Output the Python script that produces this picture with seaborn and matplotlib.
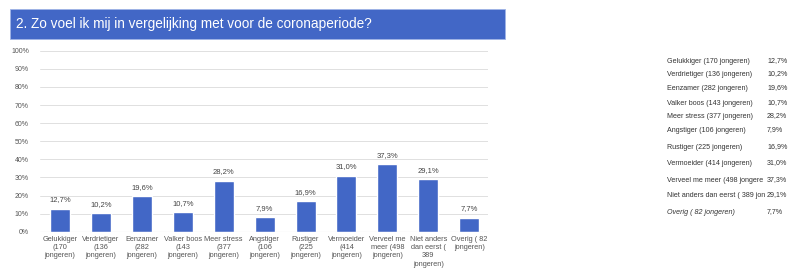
import matplotlib
matplotlib.use("Agg")
import matplotlib.pyplot as plt
from matplotlib.patches import Rectangle
import seaborn as sns
import pandas as pd

categories = [
    "Gelukkiger\n(170\njongeren)",
    "Verdrietiger\n(136\njongeren)",
    "Eenzamer\n(282\njongeren)",
    "Valker boos\n(143\njongeren)",
    "Meer stress\n(377\njongeren)",
    "Angstiger\n(106\njongeren)",
    "Rustiger\n(225\njongeren)",
    "Vermoeider\n(414\njongeren)",
    "Verveel me\nmeer (498\njongeren)",
    "Niet anders\ndan eerst (\n389\njongeren)",
    "Overig ( 82\njongeren)",
]
values = [12.7, 10.2, 19.6, 10.7, 28.2, 7.9, 16.9, 31.0, 37.3, 29.1, 7.7]
table_labels = [
    "Gelukkiger (170 jongeren)",
    "Verdrietiger (136 jongeren)",
    "Eenzamer (282 jongeren)",
    "Valker boos (143 jongeren)",
    "Meer stress (377 jongeren)",
    "Angstiger (106 jongeren)",
    "Rustiger (225 jongeren)",
    "Vermoeider (414 jongeren)",
    "Verveel me meer (498 jongere",
    "Niet anders dan eerst ( 389 jon",
    "Overig ( 82 jongeren)",
]
yticks = [0, 10, 20, 30, 40, 50, 60, 70, 80, 90, 100]
title = "2. Zo voel ik mij in vergelijking met voor de coronaperiode?"

sns.set_theme(style="white")
plt.rcParams["font.family"] = ["Liberation Sans", "DejaVu Sans"]

BLUE = "#4267c6"
W, H = 788, 271
fig = plt.figure(figsize=(W / 100, H / 100), dpi=100)
fig.patch.set_facecolor("white")

# title bar
fig.patches.append(Rectangle((10 / W, 1 - 39 / H), 495 / W, 30 / H,
                             transform=fig.transFigure, facecolor=BLUE,
                             edgecolor="#9fb4e6", linewidth=0.6, zorder=0))
fig.text(16 / W, 1 - 24 / H, title, color="white", fontsize=9.8,
         va="center", ha="left")

ax = fig.add_axes([40 / W, 1 - 231.7 / H, 448 / W, (231.7 - 50.7) / H])
df = pd.DataFrame({"cat": categories, "val": values})
sns.barplot(data=df, x="cat", y="val", color=BLUE, width=0.49, ax=ax,
            saturation=1)
ax.set_ylim(0, 100)
ax.set_xlim(-0.49, 10.46)
ax.set_yticks(yticks)
ax.set_yticklabels([f"{t}%" for t in yticks], fontsize=5, color="#555555")
ax.tick_params(axis="y", length=0, pad=8)
ax.tick_params(axis="x", length=0, pad=3, labelsize=5.3, labelcolor="#555555")
ax.set_xlabel("")
ax.set_ylabel("")
ax.grid(axis="y", color="#e0e0e0", linewidth=0.7)
ax.set_axisbelow(True)
for s in ax.spines.values():
    s.set_visible(False)
ax.axhline(0, color="#cccccc", linewidth=0.8)
for lab in ax.get_xticklabels():
    lab.set_linespacing(1.25)

for i, v in enumerate(values):
    ax.text(i, v + 3, f"{v:.1f}%".replace(".", ","), ha="center", va="bottom",
            fontsize=5.5, color="#444444")

# right-hand table
row_y = [61, 74, 88, 103, 116, 130, 147, 163, 180, 195, 212]
for k, (lab, v, y) in enumerate(zip(table_labels, values, row_y)):
    style = "italic" if k == len(values) - 1 else "normal"
    fig.text(667 / W, 1 - (y + 2) / H, lab, fontsize=5.1, color="#333333",
             va="baseline", ha="left", style=style)
    fig.text(767 / W, 1 - (y + 1) / H, f"{v:.1f}%".replace(".", ","),
             fontsize=5.1, color="#333333", va="baseline", ha="left")

fig.savefig("out.png", dpi=100, facecolor="white")
